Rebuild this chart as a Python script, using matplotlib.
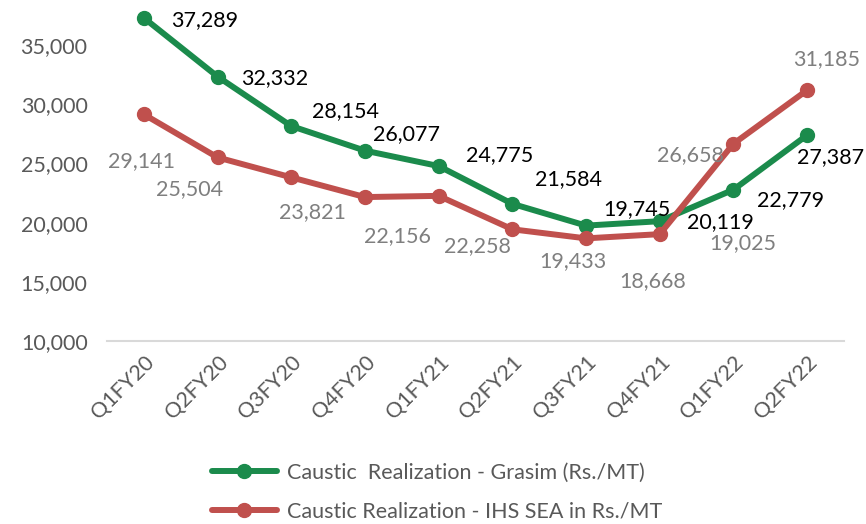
import matplotlib
matplotlib.use("Agg")
import matplotlib.pyplot as plt
from matplotlib.ticker import FuncFormatter

plt.rcParams['font.family'] = ['Lato', 'DejaVu Sans']

quarters = ["Q1FY20", "Q2FY20", "Q3FY20", "Q4FY20", "Q1FY21",
            "Q2FY21", "Q3FY21", "Q4FY21", "Q1FY22", "Q2FY22"]
grasim = [37289, 32332, 28154, 26077, 24775, 21584, 19745, 20119, 22779, 27387]
ihs_sea = [29141, 25504, 23821, 22156, 22258, 19433, 18668, 19025, 26658, 31185]
series_names = ["Caustic  Realization - Grasim (Rs./MT)",
                "Caustic Realization - IHS SEA in Rs./MT"]
yticks = [10000, 15000, 20000, 25000, 30000, 35000]

# label offsets in pixels (dx right, dy down)
green_off = [(61, 2), (57, 2), (54, -15), (42, -17), (61, -11),
             (56, -25), (51, -17), (61, 1), (57, 10), (23, 22)]
red_off = [(-2, 47), (-28, 32), (21, 35), (32, 39), (39, 50),
           (61, 32), (67, 43), (83, 9), (-43, 11), (19, -31)]

GREEN = "#1b8b4c"
RED = "#c0504d"
FS = 15.5

fig = plt.figure(figsize=(8.66, 5.24), dpi=100)
ax = fig.add_axes([107/866, 1-341/524, (844-107)/866, 341/524])
x = list(range(len(quarters)))
ax.plot(x, grasim, color=GREEN, lw=4.3, marker='o', ms=10, label=series_names[0],
        solid_capstyle='round', zorder=3)
ax.plot(x, ihs_sea, color=RED, lw=4.3, marker='o', ms=10, label=series_names[1],
        solid_capstyle='round', zorder=3)

px = 0.72
for i, v in enumerate(grasim):
    dx, dy = green_off[i]
    ax.annotate(f"{v:,}", (i, v), xytext=(dx*px, -dy*px), textcoords='offset points',
                ha='center', va='center', fontsize=FS, color='black')
for i, v in enumerate(ihs_sea):
    dx, dy = red_off[i]
    ax.annotate(f"{v:,}", (i, v), xytext=(dx*px, -dy*px), textcoords='offset points',
                ha='center', va='center', fontsize=FS, color='#7f7f7f')

ax.set_xlim(-0.5, len(quarters)-0.5)
ax.set_ylim(10000, 38800)
ax.set_yticks(yticks)
ax.yaxis.set_major_formatter(FuncFormatter(lambda v, p: f"{int(v):,}"))
ax.set_xticks(x)
ax.set_xticklabels(quarters, rotation=45, ha='right', rotation_mode='anchor')
for s in ['top', 'right', 'left']:
    ax.spines[s].set_visible(False)
ax.spines['bottom'].set_color('#d9d9d9')
ax.spines['bottom'].set_linewidth(1.5)
ax.tick_params(axis='both', length=0, labelsize=FS, colors='#595959')
ax.tick_params(axis='y', pad=14)
ax.tick_params(axis='x', pad=8)

fig.legend(loc='center', bbox_to_anchor=(0.505, 0.061), ncol=1, frameon=False,
           fontsize=FS, labelcolor='#595959', handlelength=3, labelspacing=0.85,
           handletextpad=0.5)

fig.savefig("out.png", dpi=100)
